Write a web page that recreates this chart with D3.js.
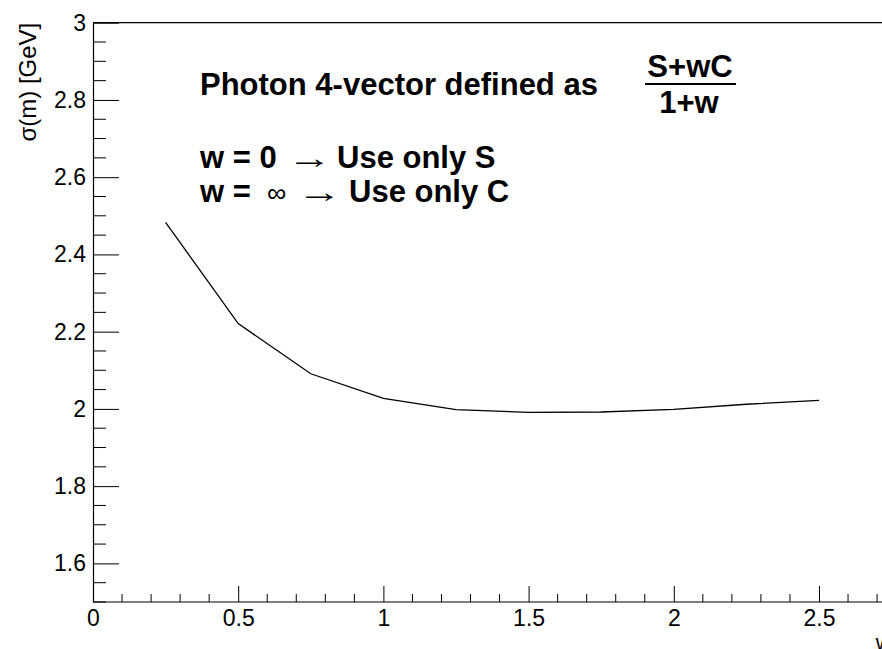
<!DOCTYPE html>
<html>
<head>
<meta charset="utf-8">
<script src="https://cdn.jsdelivr.net/npm/d3@7"></script>
<style>
  html, body { margin: 0; padding: 0; background: #fff; }
  svg { display: block; }
  text { font-family: "Liberation Sans", Arial, Helvetica, sans-serif; }
</style>
</head>
<body>
<div id="chart"></div>
<script>
// ---- data ----
const wValues = [0.25, 0.5, 0.75, 1.0, 1.25, 1.5, 1.75, 2.0, 2.25, 2.5];
const sigmaValues = [2.483, 2.221, 2.091, 2.027, 1.998, 1.991, 1.992, 1.999, 2.012, 2.022];
const xTickValues = [0, 0.5, 1, 1.5, 2, 2.5];
const xTickLabels = ["0", "0.5", "1", "1.5", "2", "2.5"];
const yTickValues = [1.6, 1.8, 2.0, 2.2, 2.4, 2.6, 2.8, 3.0];
const yTickLabels = ["1.6", "1.8", "2", "2.2", "2.4", "2.6", "2.8", "3"];
const xTitle = "w";
const yTitle = "σ(m) [GeV]";

// ---- layout ----
const W = 882, H = 649;
const frame = { left: 93, right: 891.6, top: 22.7, bottom: 602 };

const svg = d3.select("#chart").append("svg").attr("width", W).attr("height", H);

const x = d3.scaleLinear().domain([0, 2.75]).range([frame.left, frame.right]);
const y = d3.scaleLinear().domain([1.5, 3.0]).range([frame.bottom, frame.top]);

// frame top border
svg.append("line")
  .attr("x1", frame.left).attr("x2", frame.right)
  .attr("y1", frame.top).attr("y2", frame.top)
  .attr("stroke", "#000").attr("stroke-width", 1.2);

// minor ticks
const xMinor = d3.range(0, 2.75001, 0.1).filter(v => Math.abs(v * 2 - Math.round(v * 2)) > 1e-6);
const yMinor = d3.range(1.5, 3.0001, 0.05).filter(v => Math.abs(v * 5 - Math.round(v * 5)) > 1e-6);

const fontTick = 23;

// X axis
const xAxis = d3.axisBottom(x)
  .tickValues(xTickValues)
  .tickFormat((d, i) => xTickLabels[i])
  .tickSizeInner(-16).tickSizeOuter(0).tickPadding(8);
const gx = svg.append("g").attr("transform", `translate(0,${frame.bottom})`).call(xAxis);
gx.append("g").selectAll("line").data(xMinor).join("line")
  .attr("x1", d => x(d)).attr("x2", d => x(d)).attr("y1", 0).attr("y2", -8)
  .attr("stroke", "#000");

// Y axis
const yAxis = d3.axisLeft(y)
  .tickValues(yTickValues)
  .tickFormat((d, i) => yTickLabels[i])
  .tickSizeInner(-26).tickSizeOuter(0).tickPadding(7);
const gy = svg.append("g").attr("transform", `translate(${frame.left},0)`).call(yAxis);
gy.append("g").selectAll("line").data(yMinor).join("line")
  .attr("x1", 0).attr("x2", 13).attr("y1", d => y(d)).attr("y2", d => y(d))
  .attr("stroke", "#000");

[gx, gy].forEach(g => {
  g.selectAll(".domain").attr("stroke", "#000").attr("stroke-width", 1.2);
  g.selectAll(".tick line").attr("stroke", "#000");
  g.selectAll(".tick text")
    .attr("font-family", "'Liberation Sans', Arial, Helvetica, sans-serif")
    .attr("font-size", fontTick).attr("fill", "#000");
});
gx.select(".domain").attr("d", `M${frame.left},0H${frame.right}`);

// axis titles
svg.append("text")
  .attr("x", frame.right).attr("y", 650)
  .attr("text-anchor", "end")
  .attr("font-size", 22)
  .text(xTitle);

svg.append("text")
  .attr("transform", `translate(36,${frame.top}) rotate(-90)`)
  .attr("text-anchor", "end")
  .attr("font-size", 24)
  .text(yTitle);

// data line
const line = d3.line().x((d, i) => x(wValues[i])).y(d => y(d));
svg.append("path")
  .datum(sigmaValues)
  .attr("d", line)
  .attr("fill", "none")
  .attr("stroke", "#000")
  .attr("stroke-width", 1.3);

// annotation text
const big = 31;
svg.append("text")
  .attr("x", 200).attr("y", 95)
  .attr("font-size", big).attr("font-weight", "bold")
  .text("Photon 4-vector defined as");

// fraction
svg.append("text")
  .attr("x", 690).attr("y", 77).attr("text-anchor", "middle")
  .attr("font-size", big).attr("font-weight", "bold")
  .text("S+wC");
svg.append("line")
  .attr("x1", 645).attr("x2", 736).attr("y1", 84).attr("y2", 84)
  .attr("stroke", "#000").attr("stroke-width", 2);
svg.append("text")
  .attr("x", 689).attr("y", 113).attr("text-anchor", "middle")
  .attr("font-size", big).attr("font-weight", "bold")
  .text("1+w");

const symFont = "'DejaVu Sans', 'Liberation Sans', sans-serif";

// w = 0 -> Use only S
svg.append("text").attr("x", 200).attr("y", 168)
  .attr("font-size", big).attr("font-weight", "bold").text("w = 0");
svg.append("text").attr("transform", "translate(287,168) scale(1.5,1)")
  .attr("font-family", symFont)
  .attr("font-size", 30).attr("font-weight", "normal").text("→");
svg.append("text").attr("x", 337).attr("y", 168)
  .attr("font-size", big).attr("font-weight", "bold").text("Use only S");

// w = inf -> Use only C
svg.append("text").attr("x", 200).attr("y", 202)
  .attr("font-size", big).attr("font-weight", "bold").text("w =");
svg.append("text").attr("x", 267).attr("y", 202)
  .attr("font-family", symFont)
  .attr("font-size", 27).attr("font-weight", "normal").text("∞");
svg.append("text").attr("transform", "translate(297,202) scale(1.5,1)")
  .attr("font-family", symFont)
  .attr("font-size", 30).attr("font-weight", "normal").text("→");
svg.append("text").attr("x", 349).attr("y", 202)
  .attr("font-size", big).attr("font-weight", "bold").text("Use only C");
</script>
</body>
</html>
